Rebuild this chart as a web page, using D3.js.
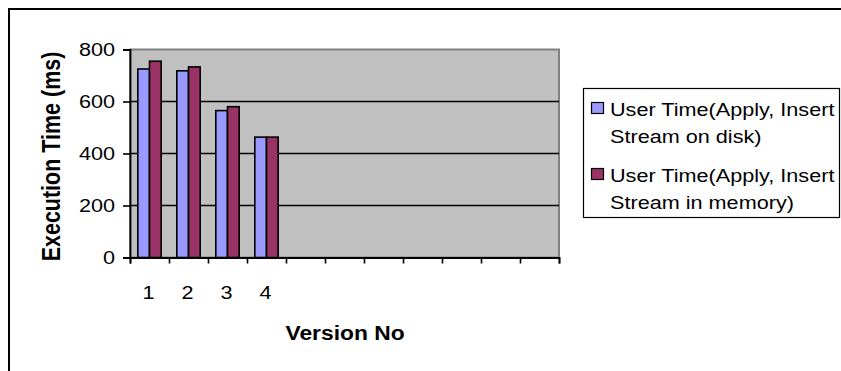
<!DOCTYPE html>
<html>
<head>
<meta charset="utf-8">
<script src="https://cdn.jsdelivr.net/npm/d3@7"></script>
<style>
  html, body { margin: 0; padding: 0; background: #fff; }
  svg { display: block; }
  text { font-family: "Liberation Sans", Arial, sans-serif; fill: #000; }
</style>
</head>
<body>
<svg id="chart" width="841" height="371"></svg>
<script>
// Version numbers along the x axis (11 slots, only the first four are labelled)
const categories = ["1", "2", "3", "4", "", "", "", "", "", "", ""];
// User time in ms, insert stream kept on disk
const diskValues = [725, 718, 565, 463];
// User time in ms, insert stream kept in memory
const memoryValues = [755, 733, 580, 463];
const seriesNames = [
  ["User Time(Apply, Insert", "Stream on disk)"],
  ["User Time(Apply, Insert", "Stream in memory)"]
];
const seriesColors = ["#9999FF", "#993366"];
const yTicks = [0, 200, 400, 600, 800];

const svg = d3.select("#chart");
const plot = { left: 130, right: 559, top: 49.5, bottom: 257.5 };
const sx = 1.17; // horizontal stretch of the lettering

// outer frame
svg.append("rect")
  .attr("x", 9).attr("y", 9).attr("width", 900).attr("height", 500)
  .attr("fill", "none").attr("stroke", "#000").attr("stroke-width", 2);

const y = d3.scaleLinear().domain([0, 800]).range([plot.bottom, plot.top]);
const x = d3.scaleBand().domain(d3.range(categories.length)).range([plot.left, plot.right]);
const xEdge = d3.scaleLinear().domain([0, categories.length]).range([plot.left, plot.right]);
const xSub = d3.scaleBand().domain([0, 1]).range([0, x.bandwidth()]).paddingOuter(0.667);

// plot background
svg.append("rect")
  .attr("x", plot.left).attr("y", plot.top)
  .attr("width", plot.right - plot.left).attr("height", plot.bottom - plot.top)
  .attr("fill", "#C0C0C0").attr("stroke", "#808080").attr("stroke-width", 2);

// gridlines
svg.append("g").selectAll("line")
  .data(yTicks.filter(v => v > 0 && v < 800))
  .join("line")
  .attr("x1", plot.left).attr("x2", plot.right)
  .attr("y1", d => y(d)).attr("y2", d => y(d))
  .attr("stroke", "#000").attr("stroke-width", 1.6);

// bars
const series = [diskValues, memoryValues];
series.forEach((vals, s) => {
  svg.append("g").selectAll("rect")
    .data(vals)
    .join("rect")
    .attr("x", (d, i) => x(i) + xSub(s))
    .attr("y", d => y(d))
    .attr("width", xSub.bandwidth())
    .attr("height", d => y(0) - y(d))
    .attr("fill", seriesColors[s])
    .attr("stroke", "#000").attr("stroke-width", 1.6);
});

// y axis
const yAxis = svg.append("g")
  .attr("transform", `translate(${plot.left},0)`)
  .call(d3.axisLeft(y).tickValues(yTicks).tickSize(7).tickFormat(""));
yAxis.select(".domain").attr("stroke", "#000").attr("stroke-width", 1.8);
yAxis.selectAll(".tick line").attr("stroke-width", 1.6);

svg.append("g").selectAll("text")
  .data(yTicks)
  .join("text")
  .attr("transform", d => `translate(115,${y(d) + 6.5}) scale(${sx},1)`)
  .attr("text-anchor", "end")
  .attr("font-size", 18.5)
  .text(d => d);

// x axis with ticks between categories
const xAxis = svg.append("g")
  .attr("transform", `translate(0,${plot.bottom})`)
  .call(d3.axisBottom(xEdge).tickValues(d3.range(categories.length + 1)).tickSize(6).tickFormat(""));
xAxis.select(".domain").attr("stroke", "#000").attr("stroke-width", 1.8);
xAxis.selectAll(".tick line").attr("stroke-width", 1.6);

svg.append("g").selectAll("text")
  .data(categories)
  .join("text")
  .attr("transform", (d, i) => `translate(${x(i) + x.bandwidth() / 2 - 1},299) scale(${sx},1)`)
  .attr("text-anchor", "middle")
  .attr("font-size", 18.5)
  .text(d => d);

// axis titles
svg.append("text")
  .attr("transform", `translate(60,156.5) rotate(-90) scale(1,${sx})`)
  .attr("text-anchor", "middle")
  .attr("font-size", 21.5)
  .attr("font-weight", "bold")
  .text("Execution Time (ms)");

svg.append("text")
  .attr("transform", `translate(345,340) scale(${sx},1)`)
  .attr("text-anchor", "middle")
  .attr("font-size", 19.5)
  .attr("font-weight", "bold")
  .text("Version No");

// legend
const legend = svg.append("g");
legend.append("rect")
  .attr("x", 583.5).attr("y", 88.5).attr("width", 256).attr("height", 129)
  .attr("fill", "#fff").attr("stroke", "#000").attr("stroke-width", 1.2);

seriesNames.forEach((lines, s) => {
  const top = 102 + s * 66;
  legend.append("rect")
    .attr("x", 591.5).attr("y", top + 0.5).attr("width", 12).attr("height", 11)
    .attr("fill", seriesColors[s]).attr("stroke", "#000").attr("stroke-width", 1.2);
  lines.forEach((line, j) => {
    legend.append("text")
      .attr("transform", `translate(610,${top + 14 + j * 27}) scale(${sx},1)`)
      .attr("font-size", 18.5)
      .text(line);
  });
});
</script>
</body>
</html>
